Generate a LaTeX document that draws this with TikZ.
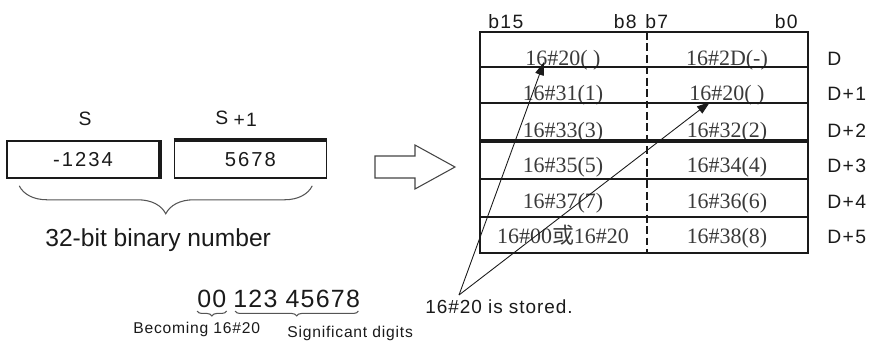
\documentclass[tikz,border=0pt]{standalone}
\usepackage{fontspec}
\setmainfont{Liberation Sans}[LetterSpace=5]
\newfontfamily\plainsans{Liberation Sans}
\newfontfamily\widesans{Liberation Sans}[LetterSpace=10]
\newfontfamily\tagsans{Liberation Sans}[LetterSpace=7]
\newfontfamily\cellfont{Liberation Serif}
\newfontfamily\cjk{Noto Sans CJK SC}
\usetikzlibrary{arrows.meta,calc,decorations.pathreplacing}
\definecolor{inkdark}{HTML}{1A1A1A}
\definecolor{celltext}{HTML}{3A3A3A}
\definecolor{bracegrey}{HTML}{555555}
\definecolor{hollowgrey}{HTML}{444444}
\tikzset{
  wordbox/.style={draw=inkdark, line width=0.9pt, minimum width=3.04cm,
                  minimum height=0.74cm, inner sep=0pt, text=inkdark,
                  font=\widesans\fontsize{11.5}{13}\selectfont},
  lbl/.style={font=\tagsans\fontsize{11}{13}\selectfont, inner sep=0pt,
              anchor=base west, text=inkdark},
  cell/.style={font=\cellfont\fontsize{12.5}{14}\selectfont, text=celltext,
               inner sep=0pt, anchor=base},
  note/.style={font=\fontsize{10.8}{12}\selectfont, inner sep=0pt,
               anchor=base west, text=inkdark},
  small/.style={font=\fontsize{8.9}{10}\selectfont, inner sep=0pt,
                anchor=base west, text=inkdark},
  digits/.style={font=\fontsize{14.2}{16}\selectfont, inner sep=0pt,
                 anchor=base west, text=inkdark},
  brc/.style={decorate, decoration={brace, mirror, amplitude=#1},
              draw=bracegrey, line width=0.6pt},
  ptr/.style={-{Triangle[length=7.5pt,width=5pt]}, line width=0.5pt,
              draw=inkdark},
  rowrule/.style={draw=inkdark, line width=1pt},
}

\begin{document}
\begin{tikzpicture}[x=0.02cm, y=-0.02cm]
\useasboundingbox (0,0) rectangle (875,342);

% ========================= source words ==================================
\node[lbl, anchor=base] (slbl)  at (85,125)  {S};
\node[lbl]              (s1lbl) at (215,124) {S\hspace{3pt}\raisebox{-1.7pt}{+1}};
\node[wordbox] at (83,159.5)  (s)  {-1234};
\node[wordbox] at (250.5,159.5) (s1) {5678};
\draw[inkdark, line width=2pt] (s.north east) -- (s.south east);
\draw[inkdark, line width=2pt] (s1.north west) -- (s1.north east);

\draw[brc=0.56cm] ($(s.south west)+(13,7)$) -- ($(s1.south east)+(-15,7)$);
\node[note, font=\plainsans\fontsize{14}{16}\selectfont] (bits) at (45,246)
   {32-bit binary number};

% the big hollow arrow
\draw[draw=hollowgrey, line width=0.6pt, fill=white]
   (375,156) -- (415,156) -- (415,145) -- (455,167) -- (415,189)
   -- (415,178) -- (375,178) -- cycle;

% ========================= destination table =============================
\node[lbl]                  (b15) at (488,28) {b15};
\node[lbl, anchor=base east] (b8) at (637,28) {b8};
\node[lbl]                  (b7)  at (645,28) {b7};
\node[lbl, anchor=base east] (b0) at (798,28) {b0};

\foreach \n/\b/\lt/\rt/\dl in {
    0/65/{16\#20(~)}/{16\#2D(-)}/D,
    1/100/{16\#31(1)}/{16\#20(~)}/D+1,
    2/137/{16\#33(3)}/{16\#32(2)}/D+2,
    3/172/{16\#35(5)}/{16\#34(4)}/D+3,
    4/208/{16\#37(7)}/{16\#36(6)}/D+4,
    5/243/{16\#00{\cjk 或}16\#20}/{16\#38(8)}/D+5}{
  \node[cell] (l\n) at (563,\b) {\lt};
  \node[cell] (r\n) at (727,\b) {\rt};
  \node[lbl]  (d\n) at (827,\b) {\dl};
}

\foreach \y in {67,103,179,217} \draw[rowrule] (480,\y) -- (808,\y);
\draw[rowrule, line width=2.2pt] (480,141) -- (808,141);
\draw[inkdark, line width=1pt, dash pattern=on 4.5pt off 2pt] (647,32) -- (647,253);
\draw[inkdark, line width=1.3pt] (480,32) rectangle (808,253);

% ========================= digits & notes ================================
\node[digits] (zz)  at (197,307) {00};
\node[digits] (sig) at (233,307) {123 45678};
\draw[brc=2.8pt] ($(zz.base west)+(0,4)$) -- ($(zz.base east)+(0,4)$);
\draw[brc=2.8pt] ($(sig.base west)+(2,4)$) -- ($(sig.base east)+(-2,4)$);
\node[small] (become) at (133,333) {Becoming 16\#20};
\node[small] (signif) at (287,337) {Significant digits};

\node[note] (stored) at (425,313) {16\#20 is stored.};
\coordinate (meet) at (459,295);
\coordinate (tipa) at (544,62);
\coordinate (tipb) at (710,102);
\draw[ptr] (meet) -- (tipa);
\draw[ptr] (meet) -- (tipb);
\end{tikzpicture}
\end{document}
